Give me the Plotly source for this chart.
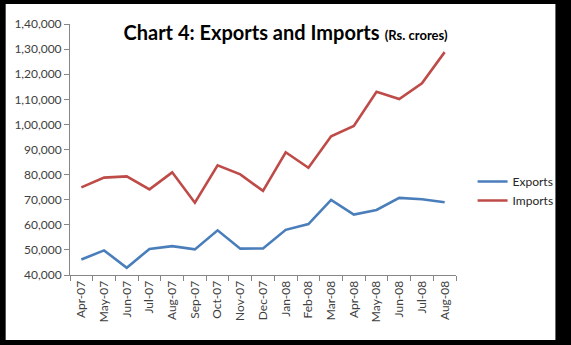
import plotly.graph_objects as go

months = ["Apr-07", "May-07", "Jun-07", "Jul-07", "Aug-07", "Sep-07", "Oct-07", "Nov-07", "Dec-07",
          "Jan-08", "Feb-08", "Mar-08", "Apr-08", "May-08", "Jun-08", "Jul-08", "Aug-08"]
exports = [46200, 49800, 42900, 50400, 51500, 50200, 57800, 50500, 50600,
           58000, 60300, 69900, 64100, 65900, 70700, 70200, 69000]
imports = [74900, 78800, 79300, 74100, 80900, 68800, 83700, 80100, 73500,
           88900, 82700, 95300, 99400, 113000, 110100, 116400, 128800]
y_ticks = [40000, 50000, 60000, 70000, 80000, 90000, 100000, 110000, 120000, 130000, 140000]
y_tick_text = ["40,000", "50,000", "60,000", "70,000", "80,000", "90,000",
               "1,00,000", "1,10,000", "1,20,000", "1,30,000", "1,40,000"]

FONT = "Lato"
W, H = 571, 345
ML, MR, MT, MB = 70, 105, 24, 70
pw, ph = W - ML - MR, H - MT - MB

fig = go.Figure()
fig.add_trace(go.Scatter(x=months, y=exports, mode="lines", name="Exports",
                         line=dict(color="#4A7EBB", width=2.6)))
fig.add_trace(go.Scatter(x=months, y=imports, mode="lines", name="Imports",
                         line=dict(color="#BE4B48", width=2.6)))

# white card on black frame
def px_x(v):
    return (v - ML) / pw
def px_y(v):
    return (H - MB - v) / ph

fig.add_shape(type="rect", xref="paper", yref="paper",
              x0=px_x(4), x1=px_x(568), y0=px_y(340), y1=px_y(4),
              fillcolor="white", line=dict(width=0), layer="below")

fig.update_layout(
    width=W, height=H,
    margin=dict(l=ML, r=MR, t=MT, b=MB),
    paper_bgcolor="black",
    plot_bgcolor="rgba(0,0,0,0)",
    font=dict(family=FONT, size=12, color="#404040"),
    title=dict(
        text="<b>Chart 4: Exports and Imports</b> <b><span style='font-size:13px'>(Rs. crores)</span></b>",
        x=0.5, xref="container", xanchor="center",
        y=1 - 33 / H, yref="container", yanchor="middle",
        font=dict(family=FONT, size=20, color="black"),
    ),
    showlegend=True,
    legend=dict(x=px_x(483), y=px_y(167), xanchor="left", yanchor="top",
                bgcolor="rgba(0,0,0,0)", font=dict(family=FONT, size=12, color="#262626"),
                tracegroupgap=0, itemwidth=30),
    xaxis=dict(
        type="category", tickangle=-90, showgrid=False, zeroline=False,
        showline=True, linecolor="#868686", linewidth=1,
        ticks="outside", tickson="boundaries", ticklen=5, tickcolor="#868686",
        range=[-0.5, len(months) - 0.5],
        tickfont=dict(family=FONT, size=12, color="#404040"),
    ),
    yaxis=dict(
        range=[40000, 140000], tickvals=y_ticks, ticktext=y_tick_text,
        showgrid=False, zeroline=False,
        showline=True, linecolor="#868686", linewidth=1,
        ticks="outside", ticklen=5, tickcolor="#868686",
        tickfont=dict(family=FONT, size=12, color="#404040"),
    ),
)

fig.write_html("out.html")
